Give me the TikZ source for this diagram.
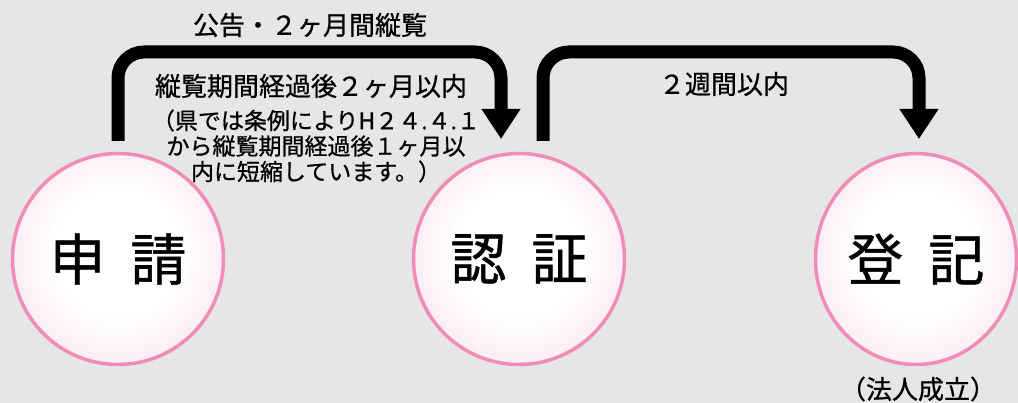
\documentclass[tikz,border=0pt]{standalone}
\usepackage{fontspec}
\newfontfamily\jp[FakeBold=0.8]{Noto Sans CJK JP}
\usetikzlibrary{arrows.meta,shapes.geometric}
\definecolor{bg}{HTML}{E6E6E6}
\definecolor{pinkb}{HTML}{EF8DB8}
\definecolor{pinkmid}{HTML}{F7D8E7}
\definecolor{pinkedge}{HTML}{F1BDD5}
\pgfdeclareradialshading{bubble}{\pgfpoint{0bp}{2bp}}{color(0bp)=(white); color(15bp)=(white); color(38bp)=(pinkmid); color(50bp)=(pinkedge)}
\tikzset{
  bubble/.style={ellipse, inner sep=0pt, draw=pinkb, line width=3.5pt, shade, shading=bubble, font=\jp\fontsize{56}{56}\selectfont},
  flow/.style={line width=13pt, rounded corners=26pt, -{Triangle[width=37pt,length=30pt]}},
  lbl/.style={font=\jp\fontsize{26}{30}\selectfont, inner sep=0pt},
  small/.style={font=\jp\fontsize{23}{25.5}\selectfont, inner sep=0pt, align=center}
}
\begin{document}
\begin{tikzpicture}[x=1pt,y=-1pt]
\fill[bg] (0,0) rectangle (1018,403);
\useasboundingbox (0,0) rectangle (1018,403);
\node[bubble, minimum width=211pt, minimum height=211pt] (shinsei) at (118,259) {申\hspace{25pt}請};
\node[bubble, minimum width=211pt, minimum height=211pt] (ninsho) at (519,259) {認\hspace{25pt}証};
\node[bubble, minimum width=201pt, minimum height=211pt] (toki) at (916,259) {登\hspace{25pt}記};
\coordinate (a1s) at (118,141);
\coordinate (a1e) at (501,139);
\coordinate (a2s) at (543,141);
\coordinate (a2e) at (919,139);
\draw[flow] (a1s) -- (118,52) -- (501,52) -- (a1e);
\draw[flow] (a2s) -- (543,52) -- (919,52) -- (a2e);
\node[lbl] (kokoku) at (310,25) {公告・２ヶ月間縦覧};
\node[lbl] (jurai) at (311,86) {縦覧期間経過後２ヶ月以内};
\node[small] (ken) at (316,146) {（県では条例によりH２４.４.１\\から縦覧期間経過後１ヶ月以\\内に短縮しています。）};
\node[lbl] (nishu) at (724,84) {２週間以内};
\node[lbl] (hojin) at (918,389) {（法人成立）};
\end{tikzpicture}
\end{document}
